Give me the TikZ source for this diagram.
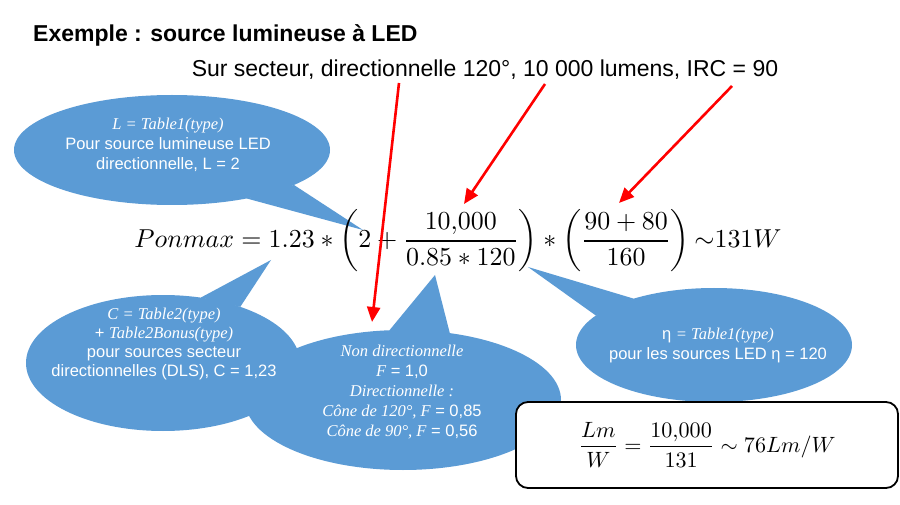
\documentclass[tikz,border=0pt]{standalone}
\usepackage{fontspec}
\setmainfont{Liberation Sans}
\newfontfamily\tnr{Liberation Serif}
\usepackage{amsmath}
\usepackage{graphicx}
\usetikzlibrary{arrows.meta,shapes.geometric}
\definecolor{bubblecol}{HTML}{5B9BD5}
\definecolor{arrowred}{HTML}{FF0000}
\begin{document}
\begin{tikzpicture}[x=1pt,y=-1pt,
  bubble/.style={ellipse, fill=bubblecol, inner sep=0pt, outer sep=0pt},
  tailfill/.style={fill=bubblecol},
  bubbletext/.style={text=white, align=center, inner sep=0pt,
    font=\fontsize{16.5}{20}\selectfont},
  headline/.style={inner sep=0pt, font=\bfseries\fontsize{23}{27}\selectfont},
  specline/.style={inner sep=0pt, font=\fontsize{23}{27}\selectfont},
  pointer/.style={draw=arrowred, line width=2.6pt,
    -{Triangle[length=15pt,width=13pt]}},
  resultbox/.style={draw=black, line width=1.8pt, fill=white,
    rounded corners=12pt, inner sep=0pt}]
\useasboundingbox (0,0) rectangle (900,505);
\fill[white] (0,0) rectangle (900,505);

% callout C
\node[bubble, minimum width=274pt, minimum height=136pt] (cC) at (163,363) {};
\coordinate (tC) at (271,260);
\fill[tailfill] (cC.60) -- (tC) -- (cC.36) -- cycle;
% callout F
\node[bubble, minimum width=316pt, minimum height=140pt] (cF) at (403,400) {};
\coordinate (tF) at (435,275);
\fill[tailfill] (cF.101) -- (tF) -- (cF.55) -- cycle;
% callout L
\node[bubble, minimum width=316pt, minimum height=110pt] (cL) at (172,150) {};
\coordinate (tL) at (363,230);
\fill[tailfill] (cL.-33) -- (tL) -- (cL.-16) -- cycle;
% callout eta
\node[bubble, minimum width=276pt, minimum height=114pt] (cE) at (714,345) {};
\coordinate (tE) at (528,267);
\fill[tailfill] (cE.166) -- (tE) -- (cE.150) -- cycle;

% callout texts
\node[bubbletext] (xL) at (168,145) {{\tnr\itshape L = Table1(type)}\\Pour source lumineuse LED\\directionnelle, L = 2};
\node[bubbletext, font=\fontsize{16.5}{19.2}\selectfont] (xC) at (164,344) {{\tnr\itshape C = Table2(type)}\\+ {\tnr\itshape Table2Bonus(type)}\\pour sources secteur\\directionnelles (DLS), C = 1,23};
\node[bubbletext] (xF) at (402,392) {{\tnr\itshape Non directionnelle}\\{\tnr\itshape F} = 1,0\\{\tnr\itshape Directionnelle :}\\{\tnr\itshape Cône de 120°, F} = 0,85\\{\tnr\itshape Cône de 90°, F} = 0,56};
\node[bubbletext] (xE) at (718,345) {η {\tnr\itshape = Table1(type)}\\pour les sources LED η = 120};

% result box
\node[resultbox, minimum width=382pt, minimum height=86pt] (box) at (707,445)
  {\resizebox{257pt}{!}{$\displaystyle \frac{Lm}{W} = \frac{10{,}000}{131} \sim 76Lm/W$}};

% main equation
\node[inner sep=0pt] (eq) at (458,241)
  {\resizebox{647pt}{!}{$\displaystyle Ponmax = 1.23 \ast \left(2+\frac{10{,}000}{0.85 \ast 120}\right) \ast \left(\frac{90+80}{160}\right) {\sim} 131W$}};

% titles
\node[headline, anchor=west] (title) at (33,35) {Exemple : source lumineuse à LED};
\node[specline] (spec) at (485,70) {Sur secteur, directionnelle 120°, 10 000 lumens, IRC = 90};

% arrows
\coordinate (a1s) at (399,83);
\coordinate (a1e) at (372,322);
\coordinate (a2s) at (545,84);
\coordinate (a2e) at (464,204);
\coordinate (a3s) at (732,86);
\coordinate (a3e) at (619,203);
\draw[pointer] (a1s) -- (a1e);
\draw[pointer] (a2s) -- (a2e);
\draw[pointer] (a3s) -- (a3e);
\end{tikzpicture}
\end{document}
